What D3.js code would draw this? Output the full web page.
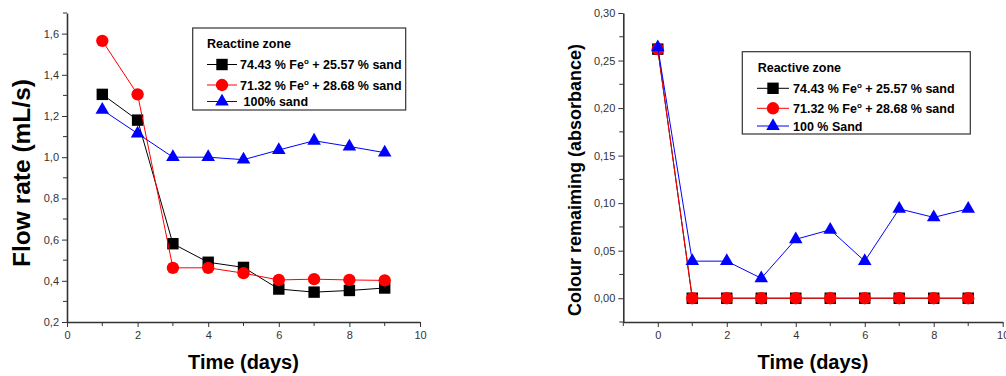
<!DOCTYPE html>
<html>
<head>
<meta charset="utf-8">
<script src="https://cdn.jsdelivr.net/npm/d3@7"></script>
<style>
  body { margin: 0; background: #fff; }
  svg { display: block; font-family: "Liberation Sans", Arial, sans-serif; }
</style>
</head>
<body>
<svg id="chart" width="1006" height="376"></svg>
<script>
// ---- data: flow rate panel ----
const flowDays = [1, 2, 3, 4, 5, 6, 7, 8, 9];
const flowFe7443 = [1.305, 1.18, 0.58, 0.49, 0.465, 0.36, 0.345, 0.353, 0.365];
const flowFe7132 = [1.565, 1.305, 0.463, 0.463, 0.437, 0.404, 0.408, 0.404, 0.402];
const flowSand = [1.23, 1.115, 1.0, 1.0, 0.988, 1.035, 1.08, 1.052, 1.022];
const flowYTicks = [0.2, 0.4, 0.6, 0.8, 1.0, 1.2, 1.4, 1.6];
const flowXTicks = [0, 2, 4, 6, 8, 10];

// ---- data: colour panel ----
const colourDays = [0, 1, 2, 3, 4, 5, 6, 7, 8, 9];
const colourFe7443 = [0.262, 0, 0, 0, 0, 0, 0, 0, 0, 0];
const colourFe7132 = [0.262, 0, 0, 0, 0, 0, 0, 0, 0, 0];
const colourSand = [0.264, 0.039, 0.039, 0.021, 0.062, 0.072, 0.039, 0.094, 0.085, 0.094];
const colourYTicks = [0, 0.05, 0.10, 0.15, 0.20, 0.25, 0.30];
const colourXTicks = [0, 2, 4, 6, 8, 10];

const seriesStyle = [
  {color: '#000000', symbol: d3.symbolSquare, size: 130},
  {color: '#ff0000', symbol: d3.symbolCircle, size: 120},
  {color: '#0000ff', symbol: d3.symbolTriangle, size: 80}
];

function translate(x, y) { return `translate(${x},${y})`; }

const svg = d3.select('#chart');
const axisColor = '#333';

function fmt(dec) {
  return v => d3.format(`.${dec}f`)(v).replace('.', ',');
}

function drawPanel(p) {
  const x = d3.scaleLinear().domain(p.xDomain).range([p.left, p.right]);
  const y = d3.scaleLinear().domain(p.yDomain).range([p.bottom, p.top]);
  const g = svg.append('g');

  // minor ticks
  g.selectAll('line.ymin').data(p.yMinor).enter().append('line')
    .attr('x1', p.left - 4).attr('x2', p.left)
    .attr('y1', d => y(d)).attr('y2', d => y(d))
    .attr('stroke', axisColor).attr('stroke-width', 1);
  g.selectAll('line.xmin').data(p.xMinor).enter().append('line')
    .attr('x1', d => x(d)).attr('x2', d => x(d))
    .attr('y1', p.bottom).attr('y2', p.bottom + 4)
    .attr('stroke', axisColor).attr('stroke-width', 1);

  const yAxis = d3.axisLeft(y).tickValues(p.yTicks).tickFormat(fmt(p.yDec)).tickSize(5).tickSizeOuter(0).tickPadding(3);
  const xAxis = d3.axisBottom(x).tickValues(p.xTicks).tickFormat(d3.format('d')).tickSize(5).tickSizeOuter(0).tickPadding(4);

  const ya = g.append('g').attr('transform', translate(p.left, 0)).call(yAxis);
  const xa = g.append('g').attr('transform', translate(0, p.bottom)).call(xAxis);
  [ya, xa].forEach(a => {
    a.select('.domain').attr('stroke', axisColor).attr('stroke-width', 1.6);
    a.selectAll('.tick line').attr('stroke', axisColor).attr('stroke-width', 1);
    a.selectAll('.tick text').attr('fill', '#333').style('font-size', '11px')
      .style('font-family', '"Liberation Sans", Arial, sans-serif');
  });

  // series
  p.series.forEach((vals, si) => {
    const st = seriesStyle[si];
    const pts = p.days.map((d, i) => [d, vals[i]]);
    g.append('path')
      .datum(pts)
      .attr('fill', 'none')
      .attr('stroke', st.color)
      .attr('stroke-width', 1)
      .attr('d', d3.line().x(d => x(d[0])).y(d => y(d[1])));
    g.selectAll(null).data(pts).enter().append('path')
      .attr('transform', d => translate(x(d[0]), y(d[1])))
      .attr('d', d3.symbol().type(st.symbol).size(st.size))
      .attr('fill', st.color);
  });

  // axis titles
  g.append('text')
    .attr('x', (p.left + p.right) / 2)
    .attr('y', 369)
    .attr('text-anchor', 'middle')
    .style('font-size', '20px').style('font-weight', 'bold')
    .text('Time (days)');
  g.append('text')
    .attr('transform', translate(p.yTitleX, p.yTitleY) + ' rotate(-90)')
    .attr('text-anchor', 'middle')
    .style('font-size', p.yTitleSize).style('font-weight', 'bold')
    .text(p.yTitle);

  // legend
  const L = p.legend;
  const lg = g.append('g');
  lg.append('rect')
    .attr('x', L.x).attr('y', L.y).attr('width', L.w).attr('height', L.h)
    .attr('fill', '#fff').attr('stroke', '#333').attr('stroke-width', 1.2);
  lg.append('text')
    .attr('x', L.titleX).attr('y', L.titleY)
    .style('font-size', '12.5px').style('font-weight', 'bold')
    .text(L.title);
  L.labels.forEach((lab, i) => {
    const st = seriesStyle[i];
    const cy = L.rows[i];
    lg.append('line')
      .attr('x1', L.lineX1).attr('x2', L.lineX2).attr('y1', cy).attr('y2', cy)
      .attr('stroke', st.color).attr('stroke-width', 1);
    lg.append('path')
      .attr('transform', translate((L.lineX1 + L.lineX2) / 2, cy))
      .attr('d', d3.symbol().type(st.symbol).size(st.size))
      .attr('fill', st.color);
    const t = lg.append('text')
      .attr('x', L.textX).attr('y', cy + 4.5)
      .style('font-size', '12.5px').style('font-weight', 'bold');
    lab.forEach(part => {
      const ts = t.append('tspan').text(part.t);
      if (part.sup) ts.attr('dy', -5).style('font-size', '8px');
      if (part.after) ts.attr('dy', 5);
    });
  });
}

const feLabel = (a, b) => [
  {t: `${a} % Fe`}, {t: 'o', sup: true}, {t: ` + ${b} % sand`, after: true}
];

drawPanel({
  left: 67, right: 420, top: 13, bottom: 322,
  xDomain: [0, 10], yDomain: [0.2, 1.7],
  xTicks: flowXTicks, yTicks: flowYTicks, yDec: 1,
  xMinor: [1, 3, 5, 7, 9], yMinor: [0.3, 0.5, 0.7, 0.9, 1.1, 1.3, 1.5, 1.7],
  days: flowDays, series: [flowFe7443, flowFe7132, flowSand],
  yTitle: 'Flow rate (mL/s)', yTitleX: 30, yTitleY: 173, yTitleSize: '24.5px',
  legend: {
    x: 192.7, y: 28, w: 213, h: 82,
    title: 'Reactine zone', titleX: 207, titleY: 48,
    lineX1: 207, lineX2: 237, rows: [64.5, 85, 101.5],
    textX: 240,
    labels: [feLabel('74.43', '25.57'), feLabel('71.32', '28.68'), [{t: '\u00a0100% sand'}]]
  }
});

drawPanel({
  left: 623.3, right: 1002.7, top: 13, bottom: 322,
  xDomain: [-1, 10], yDomain: [-0.025, 0.30],
  xTicks: colourXTicks, yTicks: colourYTicks, yDec: 2,
  xMinor: [-1, 1, 3, 5, 7, 9], yMinor: [-0.025, 0.025, 0.075, 0.125, 0.175, 0.225, 0.275],
  days: colourDays, series: [colourFe7443, colourFe7132, colourSand],
  yTitle: 'Colour remaiming (absorbance)', yTitleX: 581, yTitleY: 180, yTitleSize: '18px',
  legend: {
    x: 742.3, y: 51.7, w: 228, h: 82.3,
    title: 'Reactive zone', titleX: 757.7, titleY: 71.5,
    lineX1: 757, lineX2: 789, rows: [88.3, 108.3, 126],
    textX: 793,
    labels: [feLabel('74.43', '25.57'), feLabel('71.32', '28.68'), [{t: '100 % Sand'}]]
  }
});
</script>
</body>
</html>
